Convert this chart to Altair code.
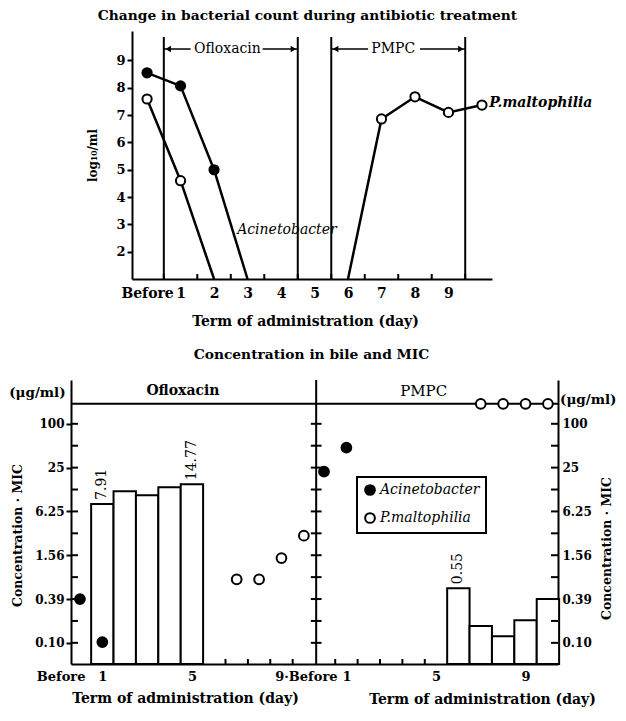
import altair as alt
import pandas as pd

FONT = "DejaVu Serif"

# ---------------- top panel: bacterial count ----------------
top_title = "Change in bacterial count during antibiotic treatment"
top_xlabel_days = [0, 1, 2, 3, 4, 5, 6, 7, 8, 9]
top_xlabels = ["Before", "1", "2", "3", "4", "5", "6", "7", "8", "9"]
top_yticks = [2, 3, 4, 5, 6, 7, 8, 9]
top_xtick_days = [0.5, 1.5, 2.5, 3.5, 4.5, 5.5, 6.5, 7.5, 8.5, 9.5]

acin_days = [0, 1, 2, 3]
acin_log = [8.55, 8.07, 5.0, 1.0]
acin_marker = [1, 1, 1, 0]

pm_days = [0, 1, 2, 6, 7, 8, 9, 10]
pm_log = [7.59, 4.6, 1.0, 1.0, 6.86, 7.67, 7.1, 7.37]
pm_segment = ["a", "a", "a", "b", "b", "b", "b", "b"]
pm_marker = [1, 1, 0, 0, 1, 1, 1, 1]

period_names = ["Ofloxacin", "PMPC"]
period_start = [0.5, 5.5]
period_end = [4.5, 9.5]
period_text_day = [2.4, 7.35]
period_gap_left = [1.3, 6.6]
period_gap_right = [3.45, 8.15]
period_level = 9.42
period_line_top = 9.86
top_ymin, top_ymax = 1, 10.08

species_names = ["Acinetobacter", "P.maltophilia"]
species_label_day = [2.69, 10.22]
species_label_log = [2.8, 7.45]

# ---------------- bottom panel: concentration in bile ----------------
bile_title = "Concentration in bile and MIC"
bile_yticks = [100 / 2 ** k for k in range(11)]
bile_ylabels = ["100", "", "25", "", "6.25", "", "1.56", "", "0.39", "", "0.10"]
bile_ymin, bile_ymax = 0.05, 400
top_line_level = 188

oflox_bar_days = [1, 2, 3, 4, 5]
oflox_bar_vals = [7.91, 11.8, 10.4, 13.4, 14.77]
oflox_bar_labeled = [1, 0, 0, 0, 1]
pmpc_bar_days = [6, 7, 8, 9, 10]
pmpc_bar_vals = [0.55, 0.166, 0.12, 0.2, 0.39]
pmpc_bar_labeled = [1, 0, 0, 0, 0]

acin_ofl_days = [0, 1]
acin_ofl_vals = [0.39, 0.10]
acin_pmpc_days = [0, 1]
acin_pmpc_vals = [22, 47]
pm_ofl_days = [7, 8, 9, 10]
pm_ofl_vals = [0.73, 0.73, 1.43, 2.9]
pm_pmpc_days = [7, 8, 9, 10]
pm_pmpc_vals = [188, 188, 188, 188]

bile_xlabel_days = [0, 1, 5, 9]
oflox_xlabels = ["Before", "1", "5", "9\u00b7"]
pmpc_xlabels = ["Before", "1", "5", "9"]
oflox_xtick_days = [6.5, 7.5, 8.5, 9.5]
pmpc_xtick_days = [0.5, 1.5, 2.5, 3.5, 4.5]

# layout constants
R_OFF = 10.9        # where the PMPC panel's "Before" sits on the shared x scale
DIVIDER = 10.55
W_TOP, H_TOP = 421, 248
W_BOT, H_BOT = 487, 284
GAP = 101           # distance between the two plot areas


def lookup_expr(values, labels):
    expr = "''"
    for v, lab in reversed(list(zip(values, labels))):
        if lab == "":
            continue
        expr = f"abs(datum.value - {v}) < {abs(v) * 1e-3 + 1e-6} ? '{lab}' : ({expr})"
    return expr


# ======================= TOP CHART =======================
xs_top = alt.Scale(domain=[-0.45, 10.3], range=[61, W_TOP], nice=False, zero=False)
ys_top = alt.Scale(domain=[top_ymin, top_ymax], nice=False, zero=False)

x_axis_top = alt.Axis(
    values=top_xlabel_days, labelExpr=lookup_expr(top_xlabel_days, top_xlabels),
    ticks=False, domainWidth=2, domainColor="black", grid=False,
    labelFont=FONT, labelFontSize=14, labelFontWeight="bold", labelColor="black",
    labelPadding=7, labelFlush=False, labelOverlap=False,
    title="Term of administration (day)", titleFont=FONT, titleFontSize=14,
    titleFontWeight="bold", titleColor="black", titlePadding=14, titleX=234,
)
y_axis_top = alt.Axis(
    values=top_yticks, offset=-61, tickSize=5, tickWidth=2, tickColor="black",
    domainWidth=2, domainColor="black", grid=False,
    labelFont=FONT, labelFontSize=13, labelFontWeight="bold", labelColor="black",
    labelPadding=2,
    title="log\u2081\u2080/ml", titleFont=FONT, titleFontSize=12, titleFontWeight="bold",
    titleColor="black", titlePadding=16,
)


def XT(f):
    return alt.X(f, type="quantitative", scale=xs_top, axis=x_axis_top)


def YT(f):
    return alt.Y(f, type="quantitative", scale=ys_top, axis=y_axis_top)


df_acin = pd.DataFrame({"d": acin_days, "y": acin_log, "m": acin_marker})
df_pm = pd.DataFrame({"d": pm_days, "y": pm_log, "seg": pm_segment, "m": pm_marker})
df_div = pd.DataFrame({"d": period_start + period_end,
                       "lo": [top_ymin] * 4, "hi": [period_line_top] * 4})
df_tt = pd.DataFrame({"d": top_xtick_days})
df_arrow = pd.DataFrame({
    "d0": period_start + period_gap_right,
    "d1": period_gap_left + period_end,
    "y": [period_level] * 4,
})
df_head_l = pd.DataFrame({"d": [s + 0.13 for s in period_start], "y": [period_level] * 2})
df_head_r = pd.DataFrame({"d": [e - 0.13 for e in period_end], "y": [period_level] * 2})
df_period = pd.DataFrame({"d": period_text_day, "y": [period_level] * 2, "t": period_names})
df_sp = pd.DataFrame({"d": species_label_day, "y": species_label_log, "t": species_names})

top_layers = [
    alt.Chart(df_tt).mark_rule(color="black", strokeWidth=2).encode(
        x=XT("d"), y=alt.value(H_TOP), y2=alt.value(H_TOP - 5)),
    alt.Chart(df_div).mark_rule(color="black", strokeWidth=2).encode(
        x=XT("d"), y=YT("lo"), y2="hi"),
    alt.Chart(df_arrow).mark_rule(color="black", strokeWidth=1.5).encode(
        x=XT("d0"), x2="d1", y=YT("y")),
    alt.Chart(df_head_l).mark_point(shape="triangle-left", filled=True, color="black",
                                    size=40, opacity=1).encode(x=XT("d"), y=YT("y")),
    alt.Chart(df_head_r).mark_point(shape="triangle-right", filled=True, color="black",
                                    size=40, opacity=1).encode(x=XT("d"), y=YT("y")),
    alt.Chart(df_period).mark_text(font=FONT, fontSize=14, color="black",
                                   baseline="middle").encode(x=XT("d"), y=YT("y"), text="t"),
    alt.Chart(df_acin).mark_line(color="black", strokeWidth=2.5).encode(
        x=XT("d"), y=YT("y")),
    alt.Chart(df_pm).mark_line(color="black", strokeWidth=2.5).encode(
        x=XT("d"), y=YT("y"), detail="seg:N"),
    alt.Chart(df_acin[df_acin.m == 1]).mark_point(
        shape="circle", filled=True, fill="black", stroke="black", strokeWidth=2,
        size=85, opacity=1).encode(x=XT("d"), y=YT("y")),
    alt.Chart(df_pm[df_pm.m == 1]).mark_point(
        shape="circle", filled=True, fill="white", stroke="black", strokeWidth=2,
        size=85, opacity=1).encode(x=XT("d"), y=YT("y")),
    alt.Chart(df_sp.iloc[[0]]).mark_text(font=FONT, fontSize=14, fontStyle="italic",
                                         color="black", align="left",
                                         baseline="middle").encode(
        x=XT("d"), y=YT("y"), text="t"),
    alt.Chart(df_sp.iloc[[1]]).mark_text(font=FONT, fontSize=14, fontStyle="italic",
                                         fontWeight="bold", color="black", align="left",
                                         baseline="middle").encode(
        x=XT("d"), y=YT("y"), text="t"),
]

top = alt.layer(*top_layers).properties(
    width=W_TOP, height=H_TOP,
    title=alt.TitleParams(top_title, font=FONT, fontSize=13.8, fontWeight="bold",
                          color="black", anchor="middle", frame="group", dx=26, offset=8),
)

# ======================= BOTTOM CHART =======================
xs_bot = alt.Scale(domain=[-0.4, 21.35], nice=False, zero=False)
ys_bot = alt.Scale(type="log", base=2, domain=[bile_ymin, bile_ymax], nice=False)

major_vals = [v for v, l in zip(bile_yticks, bile_ylabels) if l]
major_labs = [l for l in bile_ylabels if l]

bile_xlabel_u = bile_xlabel_days + [d + R_OFF for d in bile_xlabel_days]
bile_xlabel_text = oflox_xlabels + pmpc_xlabels
test_before_l = "abs(datum.value) < 0.01"
test_before_r = f"abs(datum.value - {R_OFF}) < 0.01"

x_axis_bot = alt.Axis(
    values=bile_xlabel_u, labelExpr=lookup_expr(bile_xlabel_u, bile_xlabel_text),
    ticks=False, domainWidth=2, domainColor="black", grid=False,
    labelFont=FONT, labelFontSize=13, labelFontWeight="bold", labelColor="black",
    labelPadding=6, labelFlush=False, labelOverlap=False,
    labelAlign={"condition": {"test": f"{test_before_l} || {test_before_r}", "value": "right"},
                "value": "center"},
    labelOffset={"condition": [{"test": test_before_l, "value": 5},
                               {"test": test_before_r, "value": 13}], "value": 0},
    orient="bottom",
    title="Term of administration (day)", titleFont=FONT, titleFontSize=14,
    titleFontWeight="bold", titleColor="black", titlePadding=8, titleX=114,
)
y_axis_left = alt.Axis(
    orient="left", values=major_vals, labelExpr=lookup_expr(major_vals, major_labs),
    tickSize=5, tickWidth=2, tickColor="black", domainWidth=2, domainColor="black",
    grid=False, labelFont=FONT, labelFontSize=12, labelFontWeight="bold",
    labelColor="black", labelPadding=2,
    title="Concentration \u00b7 MIC", titleFont=FONT, titleFontSize=12.5,
    titleFontWeight="bold", titleColor="black", titlePadding=10, titleY=155,
)


def XB(f):
    return alt.X(f, type="quantitative", scale=xs_bot, axis=x_axis_bot)


def YB(f):
    return alt.Y(f, type="quantitative", scale=ys_bot, axis=y_axis_left)


df_bars = pd.DataFrame({
    "u": oflox_bar_days + [d + R_OFF for d in pmpc_bar_days],
    "v": oflox_bar_vals + pmpc_bar_vals,
    "lab": oflox_bar_labeled + pmpc_bar_labeled,
})
df_bars["u0"] = df_bars["u"] - 0.5
df_bars["u1"] = df_bars["u"] + 0.5
df_bars["base"] = bile_ymin

df_pts = pd.DataFrame({
    "u": acin_ofl_days + [d + R_OFF for d in acin_pmpc_days]
    + pm_ofl_days + [d + R_OFF for d in pm_pmpc_days],
    "v": acin_ofl_vals + acin_pmpc_vals + pm_ofl_vals + pm_pmpc_vals,
    "organism": ["Acinetobacter"] * 4 + ["P.maltophilia"] * 8,
})
df_ytk = pd.DataFrame({"v": bile_yticks})
df_xtk = pd.DataFrame({"u": oflox_xtick_days + [d + R_OFF for d in pmpc_xtick_days]})
df_heads = pd.DataFrame({"u": [4.6, 15.35], "v": [280, 280], "t": period_names})
df_units = pd.DataFrame({"u": [-1.9, 22.7], "v": [267, 214],
                         "t": ["(\u03bcg/ml)", "(\u03bcg/ml)"]})

main_layers = [
    alt.Chart(df_bars).mark_rect(fill="white", stroke="black", strokeWidth=2).encode(
        x=XB("u0"), x2="u1", y=YB("v"), y2="base"),
    alt.Chart(df_bars[df_bars.lab == 1]).mark_text(
        font=FONT, fontSize=14, color="black", angle=270, align="left",
        baseline="middle", dx=4).encode(
        x=XB("u"), y=YB("v"), text=alt.Text("v:Q", format=".2f")),
    alt.Chart(df_ytk).mark_rule(color="black", strokeWidth=2).encode(
        y=YB("v"), x=alt.value(0), x2=alt.value(7)),
    alt.Chart(df_ytk).mark_rule(color="black", strokeWidth=2).encode(
        y=YB("v"), x=alt.value(W_BOT - 7), x2=alt.value(W_BOT)),
    alt.Chart(df_ytk).mark_rule(color="black", strokeWidth=2).encode(
        y=YB("v"), x=alt.datum(DIVIDER - 0.24), x2=alt.datum(DIVIDER + 0.24)),
    alt.Chart(df_xtk).mark_rule(color="black", strokeWidth=2).encode(
        x=XB("u"), y=alt.value(H_BOT), y2=alt.value(H_BOT - 5)),
    alt.Chart(pd.DataFrame({"v": [top_line_level]})).mark_rule(
        color="black", strokeWidth=2).encode(y=YB("v")),
    alt.Chart(pd.DataFrame({"u": [DIVIDER]})).mark_rule(
        color="black", strokeWidth=2).encode(x=XB("u")),
    alt.Chart(df_pts).mark_point(
        shape="circle", filled=True, stroke="black", strokeWidth=2, size=95,
        opacity=1).encode(
        x=XB("u"), y=YB("v"),
        fill=alt.Fill("organism:N",
                      scale=alt.Scale(domain=species_names, range=["black", "white"]),
                      legend=alt.Legend(
                          title=None, orient="none", legendX=286, legendY=97,
                          direction="vertical", strokeColor="black",
                          fillColor="white", padding=6, rowPadding=10,
                          labelFont=FONT, labelFontSize=14, labelFontStyle="italic",
                          labelColor="black", labelOffset=3,
                          symbolType="circle", symbolSize=95,
                          symbolStrokeColor="black", symbolStrokeWidth=2))),
    alt.Chart(df_heads.iloc[[0]]).mark_text(font=FONT, fontSize=14, fontWeight="bold",
                                            color="black", baseline="middle").encode(
        x=XB("u"), y=YB("v"), text="t"),
    alt.Chart(df_heads.iloc[[1]]).mark_text(font=FONT, fontSize=15, color="black",
                                            baseline="middle").encode(
        x=XB("u"), y=YB("v"), text="t"),
    alt.Chart(df_units).mark_text(font=FONT, fontSize=13.5, fontWeight="bold",
                                  color="black", baseline="middle").encode(
        x=XB("u"), y=YB("v"), text="t"),
]
main = alt.layer(*main_layers)

right_axis = alt.Chart(pd.DataFrame({"v": major_vals})).mark_point(opacity=0).encode(
    y=alt.Y("v:Q", scale=ys_bot, axis=alt.Axis(
        orient="right", values=major_vals, labelExpr=lookup_expr(major_vals, major_labs),
        ticks=False, domainWidth=2, domainColor="black", grid=False,
        labelFont=FONT, labelFontSize=12, labelFontWeight="bold", labelColor="black",
        labelPadding=4,
        title="Concentration \u00b7 MIC", titleFont=FONT, titleFontSize=12.5,
        titleFontWeight="bold", titleColor="black", titleAngle=270, titlePadding=22,
        titleY=168)))

second_title = alt.Chart(pd.DataFrame({"u": [0]})).mark_point(opacity=0).encode(
    x=alt.X("u:Q", scale=xs_bot, axis=alt.Axis(
        orient="bottom", labels=False, ticks=False, domain=False, grid=False,
        title="Term of administration (day)", titleFont=FONT, titleFontSize=14,
        titleFontWeight="bold", titleColor="black", titlePadding=28, titleX=411)))

bottom = alt.layer(main, right_axis, second_title).resolve_scale(
    x="independent", y="independent").properties(
    width=W_BOT, height=H_BOT,
    title=alt.TitleParams(bile_title, font=FONT, fontSize=13.8, fontWeight="bold",
                          color="black", anchor="middle", frame="group", dx=-3, offset=17),
)

chart = alt.vconcat(top, bottom, spacing=GAP, bounds="flush").resolve_scale(
    fill="independent").resolve_legend(fill="independent").properties(
    padding={"left": 0, "top": 0, "right": 0, "bottom": 0}, background="white",
).configure_view(stroke="transparent").configure_legend(strokeWidth=2)

chart.save("out.html", embed_options={"renderer": "svg", "actions": False})
